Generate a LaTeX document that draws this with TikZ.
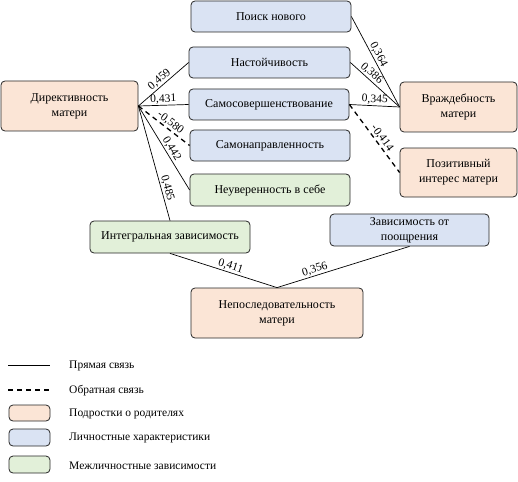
\documentclass[tikz,border=0pt]{standalone}
\usepackage{fontspec}
\setmainfont{Liberation Serif}
\begin{document}
\begin{tikzpicture}[x=1pt,y=-1pt,
  box/.style={draw=black!85,line width=0.8pt,rounded corners=4pt,align=center,inner sep=0pt,font=\fontsize{12}{15}\selectfont},
  parbox/.style={box,fill=parcol},
  lichbox/.style={box,fill=lichcol},
  mezhbox/.style={box,fill=mezhcol},
  link/.style={line width=0.7pt},
  backlink/.style={line width=1.3pt,dash pattern=on 5pt off 4pt},
  val/.style={sloped,above,inner sep=1pt,font=\fontsize{11.5}{12}\selectfont},
  legtext/.style={anchor=west,inner sep=0pt,font=\fontsize{11.5}{12}\selectfont}]
\definecolor{parcol}{HTML}{FBE5D6}
\definecolor{lichcol}{HTML}{DAE3F3}
\definecolor{mezhcol}{HTML}{E2F0D9}
\useasboundingbox (0,0) rectangle (518,481);
% mothers
\node[parbox,minimum width=137,minimum height=50] (dir) at (69.5,106) {Директивность\\матери};
\node[parbox,minimum width=117,minimum height=50] (vrazhd) at (458.5,107) {Враждебность\\матери};
\node[parbox,minimum width=117,minimum height=49] (poz) at (458.5,172.5) {Позитивный\\интерес матери};
\node[parbox,minimum width=172,minimum height=50] (neposl) at (277,313) {Непоследовательность\\матери};
% traits
\node[lichbox,minimum width=160,minimum height=31] (poisk) at (271,16.5) {Поиск нового};
\node[lichbox,minimum width=161,minimum height=31] (nast) at (269.5,62.5) {Настойчивость};
\node[lichbox,minimum width=160,minimum height=31] (samosov) at (269,104.5) {Самосовершенствование};
\node[lichbox,minimum width=160,minimum height=31] (samonapr) at (270,145.5) {Самонаправленность};
\node[lichbox,minimum width=159,minimum height=32] (zavis) at (409.5,230) {Зависимость от\\поощрения};
% dependencies
\node[mezhbox,minimum width=160,minimum height=32] (neuv) at (270,190) {Неуверенность в себе};
\node[mezhbox,minimum width=160,minimum height=32] (integr) at (170,237) {Интегральная зависимость};
% links
\draw[link] (dir.east) -- node[val] {0,459} (nast.west);
\draw[link] (dir.east) -- node[val] {0,431} (samosov.west);
\draw[backlink] (dir.east) -- node[val,pos=0.55] {-0,580} (samonapr.west);
\draw[link] (dir.east) -- node[val,pos=0.55] {0,442} (neuv.west);
\draw[link] (dir.east) -- node[val,pos=0.73] {0,485} (integr.north);
\draw[link] (poisk.east) -- node[val,pos=0.45] {0,364} (vrazhd.west);
\draw[link] (nast.east) -- node[val,pos=0.35] {0,386} (vrazhd.west);
\draw[link] (samosov.east) -- node[val] {0,345} (vrazhd.west);
\draw[backlink] (samosov.east) -- node[val,pos=0.55] {-0,414} (poz.west);
\draw[link] (integr.south) -- node[val,pos=0.55] {0,411} (neposl.north);
\draw[link] (neposl.north) -- node[val,pos=0.3] {0,356} (zavis.south);
% legend
\draw[link] (8,365) -- (50,365);
\node[legtext] (legdirect) at (69,366) {Прямая связь};
\draw[backlink] (8,390) -- (50,390);
\node[legtext] (legback) at (69,391) {Обратная связь};
\node[parbox,minimum width=41,minimum height=16] (legpar) at (29.5,413) {};
\node[legtext] (legpartext) at (69,414) {Подростки о родителях};
\node[lichbox,minimum width=41,minimum height=17] (leglich) at (29.5,437.5) {};
\node[legtext] (leglichtext) at (69,438) {Личностные характеристики};
\node[mezhbox,minimum width=41,minimum height=17] (legmezh) at (29.5,464.5) {};
\node[legtext] (legmezhtext) at (69,466) {Межличностные зависимости};
\end{tikzpicture}
\end{document}
